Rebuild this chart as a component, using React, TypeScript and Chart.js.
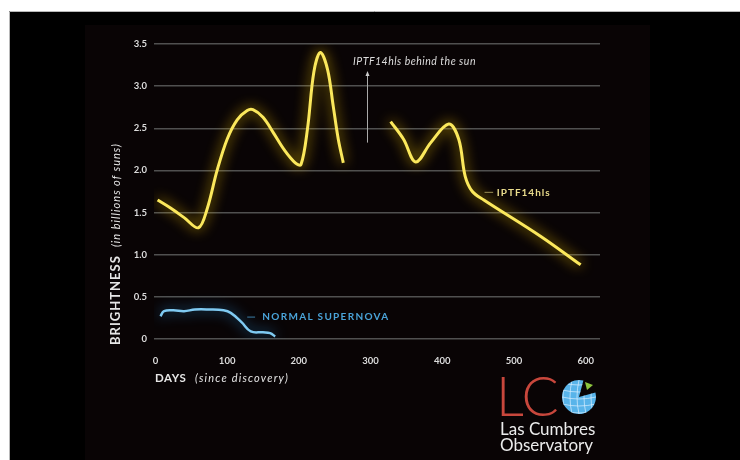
import React, { useEffect, useRef } from "react";
import { Chart, registerables } from "chart.js";

Chart.register(...registerables);

// ---- data ----
const xTicks = [0, 100, 200, 300, 400, 500, 600];
const yTicks = [0, 0.5, 1.0, 1.5, 2.0, 2.5, 3.0, 3.5];
const yTickLabels = ["0", "0.5", "1.0", "1.5", "2.0", "2.5", "3.0", "3.5"];

const hlsDays = [3, 20, 40, 60, 72, 86, 100, 114, 128, 136, 150, 165, 180, 195, 203, 212, 221, 230, 240, 248, 255, 262, 295, 328, 346, 363, 384, 409, 423, 432, 442, 458, 537, 593];
const hlsValues = [1.65, 1.56, 1.44, 1.32, 1.54, 2.0, 2.37, 2.6, 2.71, 2.72, 2.63, 2.44, 2.24, 2.09, 2.07, 2.49, 3.17, 3.4, 3.2, 2.76, 2.37, 2.09, null, 2.58, 2.37, 2.1, 2.33, 2.55, 2.37, 1.93, 1.75, 1.65, 1.22, 0.88];

const snDays = [7, 12, 25, 40, 55, 75, 95, 105, 120, 133, 150, 160, 167];
const snValues = [0.27, 0.33, 0.34, 0.33, 0.35, 0.35, 0.34, 0.31, 0.2, 0.09, 0.08, 0.07, 0.03];

const seriesNames = ["IPTF14hls", "NORMAL SUPERNOVA"];

const FONT = "Lato, 'Open Sans', sans-serif";

const bgPlugin = {
  id: "bg",
  beforeDraw(chart: any) {
    const ctx = chart.ctx;
    ctx.save();
    ctx.fillStyle = "#ffffff";
    ctx.fillRect(0, 0, chart.width, chart.height);
    ctx.fillStyle = "#000000";
    ctx.fillRect(9, 11, chart.width - 9, chart.height - 11);
    ctx.fillStyle = "#090405";
    ctx.fillRect(85, 25, 565, chart.height - 25);
    ctx.strokeStyle = "#b8b8b8";
    ctx.lineWidth = 1;
    ctx.beginPath();
    ctx.moveTo(9.5, chart.height);
    ctx.lineTo(9.5, 11.5);
    ctx.lineTo(chart.width, 11.5);
    ctx.stroke();
    ctx.restore();
  },
};

const glowPlugin = {
  id: "glow",
  beforeDatasetDraw(chart: any, args: any) {
    const ctx = chart.ctx;
    ctx.save();
    const ds = chart.data.datasets[args.index];
    ctx.shadowColor = ds.glowColor;
    ctx.shadowBlur = 13;
  },
  afterDatasetDraw(chart: any) {
    chart.ctx.restore();
  },
};

function spaced(ctx: any, text: string, x: number, y: number, spacing: number) {
  try {
    ctx.letterSpacing = spacing + "px";
  } catch (e) {}
  ctx.fillText(text, x, y);
  try {
    ctx.letterSpacing = "0px";
  } catch (e) {}
}

const annotPlugin = {
  id: "annot",
  afterDraw(chart: any) {
    const ctx = chart.ctx;
    const xs = chart.scales.x;
    const ys = chart.scales.y;
    const px = (d: number) => xs.getPixelForValue(d);
    const py = (v: number) => ys.getPixelForValue(v);
    ctx.save();

    // IPTF14hls label
    ctx.strokeStyle = "#9a8f55";
    ctx.lineWidth = 1;
    ctx.beginPath();
    ctx.moveTo(px(459), py(1.74));
    ctx.lineTo(px(471), py(1.74));
    ctx.stroke();
    ctx.fillStyle = "#eadc8c";
    ctx.font = `bold 10px ${FONT}`;
    ctx.textBaseline = "middle";
    ctx.textAlign = "left";
    spaced(ctx, seriesNames[0], px(476), py(1.74), 1);

    // NORMAL SUPERNOVA label
    ctx.strokeStyle = "#3c7fa8";
    ctx.beginPath();
    ctx.moveTo(px(128), py(0.26));
    ctx.lineTo(px(139), py(0.26));
    ctx.stroke();
    ctx.fillStyle = "#4aa3d8";
    ctx.font = `bold 10px ${FONT}`;
    spaced(ctx, seriesNames[1], px(149), py(0.26), 1.3);

    // behind the sun annotation
    ctx.fillStyle = "#dddddd";
    ctx.font = `italic 10.5px ${FONT}`;
    spaced(ctx, "IPTF14hls behind the sun", px(275.5), py(3.29), 0.5);
    const ax = Math.round(px(295)) + 0.5;
    ctx.strokeStyle = "#aaaaaa";
    ctx.beginPath();
    ctx.moveTo(ax, py(2.33));
    ctx.lineTo(ax, py(3.15));
    ctx.stroke();
    ctx.fillStyle = "#cccccc";
    ctx.beginPath();
    ctx.moveTo(ax, py(3.18));
    ctx.lineTo(ax - 2, py(3.12));
    ctx.lineTo(ax + 2, py(3.12));
    ctx.closePath();
    ctx.fill();

    // Y axis title
    ctx.save();
    ctx.translate(116, 345);
    ctx.rotate(-Math.PI / 2);
    ctx.textAlign = "left";
    ctx.textBaseline = "middle";
    ctx.fillStyle = "#e6e6e6";
    ctx.font = `bold 13px ${FONT}`;
    spaced(ctx, "BRIGHTNESS", 0, 0, 1);
    ctx.font = `italic 11px ${FONT}`;
    spaced(ctx, "(in billions of suns)", 98, 0, 1);
    ctx.restore();

    // X axis title
    ctx.fillStyle = "#e6e6e6";
    ctx.font = `bold 11.5px ${FONT}`;
    ctx.textAlign = "left";
    ctx.textBaseline = "middle";
    spaced(ctx, "DAYS", 155, 378, 0.6);
    ctx.font = `italic 11px ${FONT}`;
    spaced(ctx, "(since discovery)", 195, 378, 1.2);

    // Logo
    ctx.textBaseline = "alphabetic";
    ctx.fillStyle = "#c8473c";
    ctx.font = `300 55px ${FONT}`;
    ctx.fillText("LC", 496, 416);
    const cx = 579, cy = 397, r = 17;
    ctx.save();
    ctx.beginPath();
    ctx.moveTo(cx, cy);
    ctx.arc(cx, cy, r, (-15 * Math.PI) / 180, (285 * Math.PI) / 180);
    ctx.closePath();
    ctx.fillStyle = "#58b4ea";
    ctx.fill();
    ctx.clip();
    ctx.strokeStyle = "rgba(220,240,255,0.7)";
    ctx.lineWidth = 1;
    for (let i = -2; i <= 2; i++) {
      ctx.beginPath();
      ctx.moveTo(cx - r, cy + i * 7);
      ctx.quadraticCurveTo(cx, cy + i * 7 + 4, cx + r, cy + i * 7);
      ctx.stroke();
      ctx.beginPath();
      ctx.moveTo(cx + i * 7, cy - r);
      ctx.quadraticCurveTo(cx + i * 7 - 4, cy, cx + i * 7, cy + r);
      ctx.stroke();
    }
    ctx.restore();
    ctx.fillStyle = "#8dc63f";
    ctx.beginPath();
    ctx.moveTo(585, 382);
    ctx.lineTo(593, 385);
    ctx.lineTo(587, 390);
    ctx.closePath();
    ctx.fill();

    ctx.fillStyle = "#ececec";
    ctx.font = `17px ${FONT}`;
    ctx.fillText("Las Cumbres", 500, 435);
    ctx.fillText("Observatory", 500, 451);

    ctx.restore();
  },
};

export default function App() {
  const ref = useRef<HTMLCanvasElement | null>(null);

  useEffect(() => {
    if (!ref.current) return;
    const chart = new Chart(ref.current, {
      type: "line",
      data: {
        datasets: [
          {
            label: seriesNames[0],
            data: hlsDays.map((d, i) => ({ x: d, y: hlsValues[i] })),
            borderColor: "#fbe85c",
            borderWidth: 3,
            pointRadius: 0,
            tension: 0.35,
            spanGaps: false,
            glowColor: "rgba(255,205,0,0.95)",
          } as any,
          {
            label: seriesNames[1],
            data: snDays.map((d, i) => ({ x: d, y: snValues[i] })),
            borderColor: "#7fcaf2",
            borderWidth: 2.5,
            pointRadius: 0,
            tension: 0.4,
            glowColor: "rgba(40,140,210,0.95)",
          } as any,
        ],
      },
      options: {
        responsive: false,
        devicePixelRatio: 1,
        animation: false,
        events: [],
        layout: { padding: { left: 0, right: 140, top: 44, bottom: 91 } },
        plugins: {
          legend: { display: false },
          tooltip: { enabled: false },
          title: { display: false },
        },
        scales: {
          x: {
            type: "linear",
            min: -2,
            max: 620,
            afterBuildTicks: (s: any) => {
              s.ticks = xTicks.map((v) => ({ value: v }));
            },
            afterFit: (s: any) => {
              s.height = 30;
            },
            grid: { display: false },
            border: { display: false },
            ticks: {
              color: "#dcdcdc",
              font: { family: FONT, weight: "bold", size: 9.5 },
              padding: 8,
              maxRotation: 0,
              autoSkip: false,
            },
          },
          y: {
            type: "linear",
            min: 0,
            max: 3.5,
            afterBuildTicks: (s: any) => {
              s.ticks = yTicks.map((v) => ({ value: v }));
            },
            afterFit: (s: any) => {
              s.width = 154;
            },
            grid: { color: "#505050", lineWidth: 1.5, drawTicks: false },
            border: { display: false },
            ticks: {
              color: "#dcdcdc",
              font: { family: FONT, weight: "bold", size: 9.5 },
              padding: 7,
              autoSkip: false,
              callback: (v: any) => {
                const i = yTicks.indexOf(Number(v));
                return i >= 0 ? yTickLabels[i] : "";
              },
            },
          },
        },
      } as any,
      plugins: [bgPlugin, glowPlugin, annotPlugin],
    });
    return () => chart.destroy();
  }, []);

  return (
    <div style={{ position: "fixed", left: 0, top: 0, width: 740, height: 460 }}>
      <canvas ref={ref} width={740} height={460} style={{ display: "block" }} />
    </div>
  );
}
